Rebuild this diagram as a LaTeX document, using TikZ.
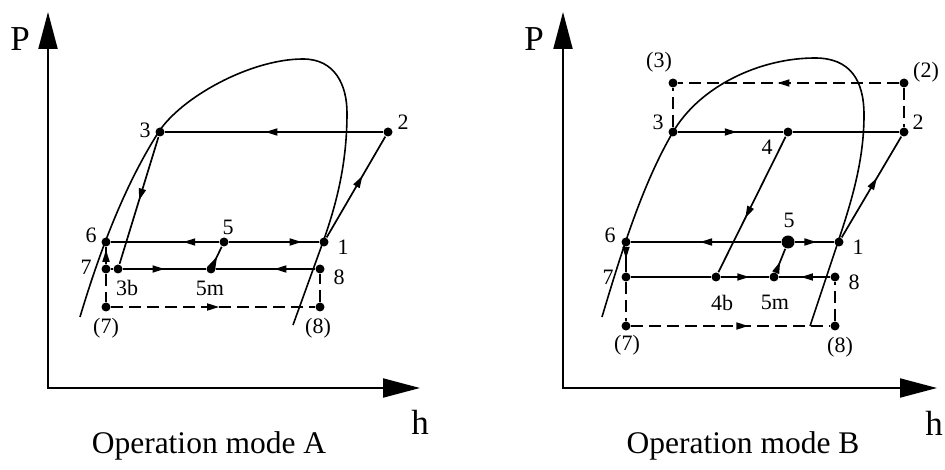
\documentclass[tikz,border=0pt]{standalone}
\usepackage{fontspec}
\setmainfont{Liberation Serif}
\usetikzlibrary{arrows.meta,decorations.markings}

\begin{document}
\begin{tikzpicture}[
    x=1pt, y=-1pt,
    line width=1.7pt,
    dot/.style={circle, fill, inner sep=0pt, minimum size=9pt},
    bigdot/.style={dot, minimum size=13pt},
    lbl/.style={inner sep=0pt, font=\fontsize{22}{22}\selectfont},
    axlbl/.style={inner sep=0pt, font=\fontsize{35}{35}\selectfont},
    caption/.style={inner sep=0pt, font=\fontsize{31.5}{31.5}\selectfont},
    axis/.style={line width=2pt,
                 {Triangle[length=37pt,width=19pt]}-{Triangle[length=37pt,width=19pt]}},
    flow/.style={postaction={decorate}, decoration={markings,
                 mark=at position #1 with {\arrow{Triangle[length=12pt,width=7pt]}}}},
    flow/.default=0.5,
    dashline/.style={dash pattern=on 12pt off 6pt},
    dome/.style={line width=1.6pt}
]
\useasboundingbox (0,0) rectangle (945,470);

% mode A
\coordinate (oA) at (48,388);
\coordinate (pA) at (48,12);
\coordinate (hA) at (420,388);
\draw[axis] (pA) -- (oA) -- (hA);
\node[axlbl] (PA) at (20,39) {P};
\node[axlbl] (hAl) at (420,422) {h};
\node[caption] (capA) at (209,446) {Operation mode A};

\draw[dome] (80,317) .. controls (100,250) and (125,185) .. (158,133)
    .. controls (180,98) and (250,59) .. (303,59)
    .. controls (335,59) and (347,85) .. (347,113)
    .. controls (347,160) and (338,200) .. (323,242) -- (293,325);

\node[dot] (a1) at (324,242) {};
\node[dot] (a2) at (388,132) {};
\node[dot] (a3) at (160,132) {};
\node[dot] (a3b) at (118,269) {};
\node[dot] (a5) at (224,242) {};
\node[dot] (a5m) at (211,269) {};
\node[dot] (a6) at (106,242) {};
\node[dot] (a7) at (106,269) {};
\node[dot] (a8) at (320,269) {};
\node[dot] (a7p) at (106,307) {};
\node[dot] (a8p) at (320,307) {};

\node[lbl] (la1) at (343,247) {1};
\node[lbl] (la2) at (403,122) {2};
\node[lbl] (la3) at (145,130) {3};
\node[lbl] (la3b) at (127,288) {3b};
\node[lbl] (la5) at (228,227) {5};
\node[lbl] (la5m) at (210,288) {5m};
\node[lbl] (la6) at (91,235) {6};
\node[lbl] (la7) at (86,267) {7};
\node[lbl] (la8) at (339,277) {8};
\node[lbl] (la7p) at (106,328) {(7)};
\node[lbl] (la8p) at (318,328) {(8)};

\draw[flow=0.54] (a2) -- (a3);
\draw[flow=0.5] (a3) -- (a3b);
\draw[flow=0.61] (a1) -- (a2);
\draw[flow=0.33] (a5) -- (a6);
\draw[flow=0.81] (a5) -- (a1);
\draw[flow=0.85] (a7) -- (a6);
\draw (a7) -- (a3b);
\draw[flow=0.5] (a3b) -- (a5m);
\draw[flow=0.41] (a8) -- (a5m);
\draw[flow=0.45] (a5m) -- (a5);
\draw[dashline] (a7) -- (a7p);
\draw[dashline, flow=0.53] (a7p) -- (a8p);
\draw[dashline] (a8p) -- (a8);

% mode B
\coordinate (oB) at (563,388);
\coordinate (pB) at (563,12);
\coordinate (hB) at (937,388);
\draw[axis] (pB) -- (oB) -- (hB);
\node[axlbl] (PB) at (534,39) {P};
\node[axlbl] (hBl) at (934,423) {h};
\node[caption] (capB) at (743,446) {Operation mode B};

\draw[dome] (602,317) .. controls (622,250) and (643,183) .. (673,132)
    .. controls (700,86) and (760,58) .. (815,58)
    .. controls (850,58) and (864,80) .. (864,115)
    .. controls (864,160) and (852,200) .. (838,242) -- (810,326);

\node[dot] (b1) at (839,242) {};
\node[dot] (b2) at (904,132) {};
\node[dot] (b3) at (673,132) {};
\node[dot] (b4) at (788,132) {};
\node[dot] (b4b) at (716,277) {};
\node[bigdot] (b5) at (788,242) {};
\node[dot] (b5m) at (774,277) {};
\node[dot] (b6) at (626,242) {};
\node[dot] (b7) at (626,277) {};
\node[dot] (b8) at (835,277) {};
\node[dot] (b2p) at (904,83) {};
\node[dot] (b3p) at (673,83) {};
\node[dot] (b7p) at (626,326) {};
\node[dot] (b8p) at (835,326) {};

\node[lbl] (lb1) at (858,247) {1};
\node[lbl] (lb2) at (918,122) {2};
\node[lbl] (lb3) at (658,122) {3};
\node[lbl] (lb4) at (767,147) {4};
\node[lbl] (lb4b) at (722,303) {4b};
\node[lbl] (lb5) at (789,220) {5};
\node[lbl] (lb5m) at (775,302) {5m};
\node[lbl] (lb6) at (610,235) {6};
\node[lbl] (lb7) at (608,277) {7};
\node[lbl] (lb8) at (854,282) {8};
\node[lbl] (lb2p) at (926,72) {(2)};
\node[lbl] (lb3p) at (659,62) {(3)};
\node[lbl] (lb7p) at (627,345) {(7)};
\node[lbl] (lb8p) at (840,347) {(8)};

\draw[flow=0.56] (b3) -- (b4);
\draw (b4) -- (b2);
\draw[flow=0.6] (b4) -- (b4b);
\draw[flow=0.59] (b1) -- (b2);
\draw[flow=0.54] (b5) -- (b6);
\draw[flow=0.55] (b5) -- (b1);
\draw[flow=0.47] (b6) -- (b7);
\draw (b7) -- (b4b);
\draw[flow=0.59] (b4b) -- (b5m);
\draw[flow=0.57] (b8) -- (b5m);
\draw[flow=0.45] (b5m) -- (b5);
\draw[dashline] (b3) -- (b3p);
\draw[dashline, flow=0.55] (b2p) -- (b3p);
\draw[dashline] (b2p) -- (b2);
\draw[dashline] (b7) -- (b7p);
\draw[dashline, flow=0.59] (b7p) -- (b8p);
\draw[dashline] (b8p) -- (b8);
\end{tikzpicture}
\end{document}
